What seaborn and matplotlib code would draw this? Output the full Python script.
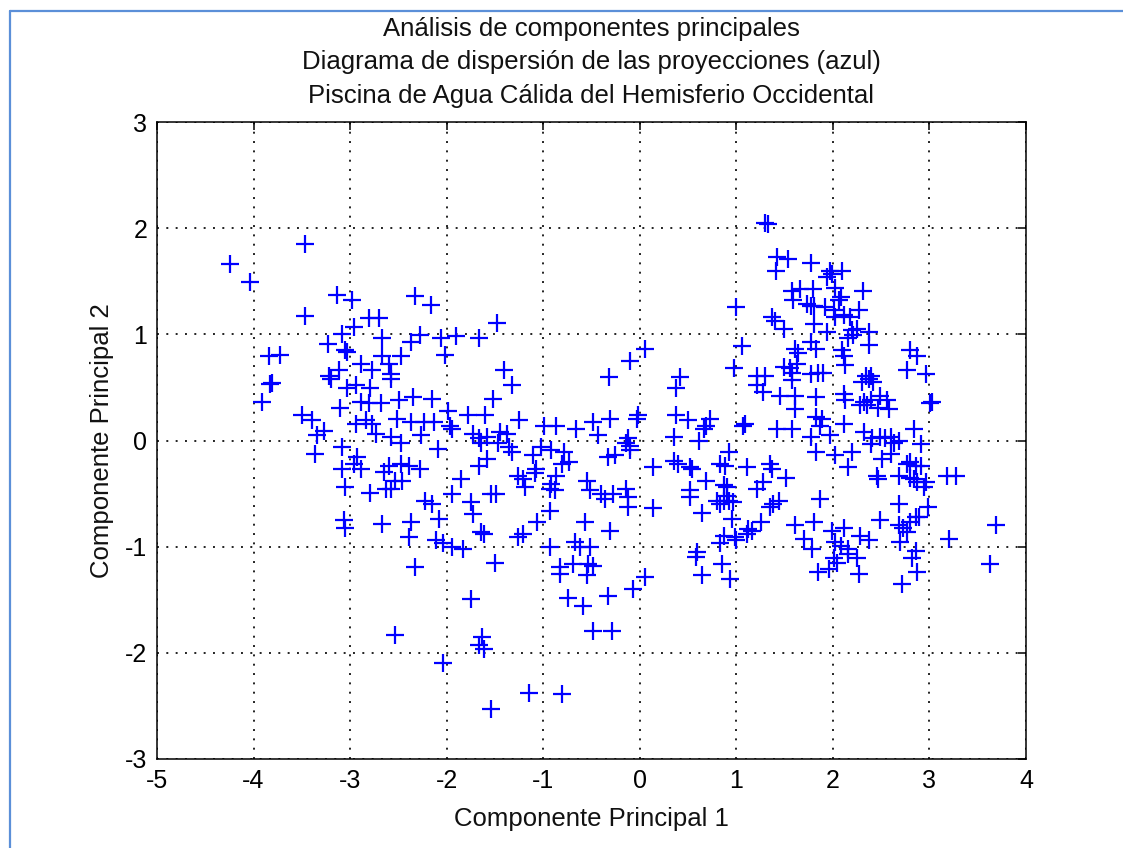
import matplotlib
matplotlib.use("Agg")
import matplotlib.pyplot as plt
from matplotlib.lines import Line2D
import seaborn as sns
import pandas as pd

# Projections onto the first two principal components
pc1 = [
    -4.24, -4.04, -3.47, -3.47, -3.14, -2.98, -2.33, -2.80, -2.70, -2.96, -3.08, -2.67, -2.37, -3.23,
    -3.05, -3.03, -3.84, -3.73, -2.67, -2.47, -2.89, -2.77, -2.60, -2.58, -3.22, -3.12, -3.83, -3.81,
    -3.91, -3.20, -3.03, -2.94, -2.79, -3.10, -2.89, -2.80, -2.68, -2.58, -2.49, -2.35, -3.50, -3.39,
    -3.27, -3.34, -2.94, -2.84, -2.77, -2.73, -2.51, -2.37, -2.58, -2.47, -3.08, -3.36, -2.93, -2.96,
    -3.08, -2.89, -2.60, -2.47, -2.39, -2.65, -2.46, -2.53, -2.63, -2.58, -3.05, -2.79, -3.06, -3.05,
    -2.67, -2.37, -2.39,
    -2.16, -1.48, -2.28, -2.06, -1.90, -1.66, -2.02, -1.41, -1.32, -0.32,
    -1.52, -2.15, -1.99, -1.78, -1.60, -2.23, -2.13, -1.97, -1.94, -1.73, -1.66, -1.58, -1.45, -1.38,
    -1.25, -1.47, -1.35, -1.32, -2.27, -2.09, -1.64, -0.99, -0.87, -0.66, -0.48, -0.43, -0.31, -1.11,
    -1.02, -0.92, -0.78, -0.81, -0.73, -0.33, -1.66, -1.58, -2.28, -1.26, -1.21, -1.19, -1.07, -1.09,
    -1.85, -0.87, -0.92, -0.88, -0.93, -0.55, -0.52, -0.40, -0.36, -1.94, -2.22, -2.15, -1.75, -1.73,
    -1.54, -1.49, -0.93, -1.06, -0.57, -2.08, -2.11, -2.04, -1.64, -1.61, -1.26, -1.21, -0.31, -0.93,
    -0.67, -0.62, -0.52, -1.94, -1.83,
    -2.33, -2.54, -2.04, -1.50, -1.75, -1.63, -1.66, -1.61, -1.54, -1.15, -0.81, -0.83, -0.83, -0.69,
    -0.54, -0.48, -0.55, -0.74, -0.59, -0.48, -0.29, -0.33,
    -0.07, 0.05, 0.58, 0.64, 0.85, 0.93, 1.85, 1.96, 2.04, 2.01, 2.16, 2.25, 2.27, 2.72, 2.82, 2.87,
    3.63,
    1.30, 1.33, 1.42, 1.54, 1.41, 1.77, 1.00, 1.58, 1.66, 1.79, 1.59, 1.73, 1.77, 1.37, 1.40, 1.49,
    1.80, 0.05, -0.10, 1.06, 0.98, 0.42, 1.21, 1.30, 1.49, 1.56, 1.63, 1.61, 1.64, 1.77,
    0.38, -0.02, -0.03, 0.38, 0.50, 0.73, 0.69, 0.67, 1.07, 1.09, 0.35, 0.61, -0.12, -0.14, -0.10,
    -0.26, -0.10, 0.14, 0.35, 0.40, 0.52, 0.54, 0.92, 0.83, 0.88, 1.11, 1.35, 1.37, 1.51, 0.69, 0.87,
    0.90, 1.28, 1.21, -0.14, -0.12, -0.28, 0.52, 0.52, 0.80, 0.87, 0.92, 0.97, 0.83, 0.90, 1.38, 1.44,
    1.35, -0.12, 0.14, 0.64, 0.95, 1.61, 1.70, 1.12, 1.16, 1.11, 1.26, 0.87, 0.99, 1.00, 0.83, 1.80,
    1.78, 0.59,
    1.21, 1.28, 1.45, 1.61, 1.61, 1.58, 1.42, 1.58, 1.77, 1.58, 1.77,
    1.97, 2.09, 1.94, 1.99, 2.02, 2.31, 2.06, 2.08, 1.80, 1.92, 2.01, 2.11, 2.18, 2.27, 1.94, 2.02,
    2.20, 2.25, 2.21, 2.16, 2.37, 2.37, 1.82, 2.09, 2.11, 2.13, 1.85, 1.90, 2.34, 2.39, 2.80, 2.87,
    2.77, 2.96,
    1.82, 2.11, 2.13, 2.30, 2.37, 2.42, 2.32, 2.35, 2.39, 2.28, 2.49, 2.56, 2.58, 2.47, 3.01, 3.03,
    1.83, 1.89, 1.87, 2.11, 1.97, 2.32, 2.41, 2.39, 2.49, 2.54, 2.60, 2.63, 2.68, 2.60, 2.51, 2.84,
    2.91, 1.83, 2.02, 2.20, 2.16, 2.77, 2.80, 2.86, 2.91, 2.46, 2.47, 2.68, 2.80, 2.84, 2.87, 2.96,
    2.94, 3.18, 3.27, 1.87, 2.68, 2.98, 2.49, 2.86, 2.89, 2.80, 2.11, 1.99, 2.68, 2.73, 2.77, 2.28,
    2.37, 2.02, 2.08, 2.70, 3.20, 3.69, 2.16, 2.86,
]
pc2 = [
    1.66, 1.49, 1.85, 1.17, 1.37, 1.32, 1.36, 1.15, 1.15, 1.07, 1.00, 0.97, 0.93, 0.91,
    0.85, 0.83, 0.80, 0.81, 0.80, 0.80, 0.72, 0.66, 0.72, 0.63, 0.61, 0.66, 0.53, 0.54,
    0.36, 0.58, 0.49, 0.52, 0.49, 0.31, 0.36, 0.35, 0.35, 0.58, 0.38, 0.41, 0.24, 0.19,
    0.09, 0.05, 0.16, 0.19, 0.16, 0.06, 0.20, 0.17, 0.03, -0.02, -0.06, -0.13, -0.16, -0.22,
    -0.27, -0.27, -0.24, -0.22, -0.24, -0.30, -0.38, -0.38, -0.46, -0.46, -0.44, -0.49, -0.75, -0.82,
    -0.79, -0.77, -0.91,
    1.28, 1.11, 0.99, 0.97, 0.98, 0.97, 0.81, 0.66, 0.52, 0.60,
    0.39, 0.39, 0.28, 0.24, 0.24, 0.17, 0.17, 0.14, 0.11, 0.06, 0.02, 0.03, 0.08, 0.06,
    0.19, -0.02, -0.06, -0.11, 0.05, -0.08, -0.02, 0.14, 0.14, 0.11, 0.17, 0.05, 0.20, -0.14,
    -0.06, -0.09, -0.11, -0.22, -0.20, -0.16, -0.24, -0.17, -0.27, -0.33, -0.36, -0.44, -0.27, -0.31,
    -0.36, -0.33, -0.41, -0.47, -0.46, -0.38, -0.47, -0.50, -0.55, -0.50, -0.57, -0.60, -0.58, -0.69,
    -0.50, -0.50, -0.66, -0.77, -0.77, -0.74, -0.94, -0.97, -0.86, -0.88, -0.91, -0.88, -0.85, -1.00,
    -0.96, -1.00, -1.00, -1.00, -1.02,
    -1.19, -1.83, -2.10, -1.15, -1.49, -1.85, -1.93, -1.96, -2.53, -2.38, -2.39, -1.19, -1.26, -1.16,
    -1.16, -1.18, -1.27, -1.48, -1.56, -1.79, -1.79, -1.46,
    -1.40, -1.29, -1.10, -1.27, -1.16, -1.30, -1.24, -1.21, -1.15, -1.11, -1.07, -1.11, -1.26, -1.35,
    -1.11, -1.24, -1.16,
    2.05, 2.04, 1.73, 1.71, 1.60, 1.67, 1.26, 1.41, 1.43, 1.43, 1.32, 1.29, 1.27, 1.16, 1.13, 1.05,
    1.10, 0.86, 0.75, 0.89, 0.68, 0.60, 0.61, 0.61, 0.69, 0.68, 0.72, 0.86, 0.82, 0.93,
    0.49, 0.24, 0.20, 0.24, 0.19, 0.20, 0.14, 0.11, 0.14, 0.16, 0.03, 0.00, 0.02, -0.02, -0.05,
    -0.14, -0.09, -0.25, -0.19, -0.22, -0.25, -0.27, -0.11, -0.22, -0.24, -0.25, -0.22, -0.27, -0.35,
    -0.38, -0.42, -0.44, -0.39, -0.46, -0.46, -0.53, -0.50, -0.47, -0.53, -0.57, -0.57, -0.57, -0.58,
    -0.60, -0.52, -0.60, -0.57, -0.63, -0.63, -0.64, -0.68, -0.74, -0.80, -0.93, -0.83, -0.85, -0.88,
    -0.77, -0.90, -0.91, -0.94, -0.97, -0.77, -1.02, -1.05,
    0.52, 0.46, 0.42, 0.42, 0.30, 0.57, 0.11, 0.11, 0.03, 0.64, 0.63,
    1.60, 1.60, 1.54, 1.57, 1.44, 1.41, 1.32, 1.35, 1.27, 1.26, 1.23, 1.18, 1.16, 1.23, 1.02, 1.16,
    1.04, 1.05, 0.99, 0.97, 1.02, 0.90, 0.86, 0.85, 0.80, 0.71, 0.64, 0.64, 0.61, 0.61, 0.85, 0.80,
    0.66, 0.63,
    0.41, 0.44, 0.38, 0.55, 0.58, 0.55, 0.36, 0.33, 0.38, 0.33, 0.42, 0.38, 0.30, 0.31, 0.35, 0.36,
    0.22, 0.20, 0.14, 0.16, 0.05, 0.08, 0.02, -0.03, 0.03, 0.02, 0.03, -0.02, 0.00, -0.13, -0.17, 0.11,
    -0.03, -0.11, -0.14, -0.11, -0.25, -0.22, -0.20, -0.24, -0.24, -0.33, -0.36, -0.33, -0.35, -0.36,
    -0.39, -0.39, -0.44, -0.33, -0.33, -0.55, -0.60, -0.63, -0.75, -0.72, -0.72, -0.77, -0.82, -0.85,
    -0.80, -0.82, -0.86, -0.90, -0.94, -0.96, -0.99, -0.96, -0.93, -0.80, -1.02, -1.04,
]

x_ticks = [-5, -4, -3, -2, -1, 0, 1, 2, 3, 4]
y_ticks = [-3, -2, -1, 0, 1, 2, 3]

title_lines = [
    "Análisis de componentes principales",
    "Diagrama de dispersión de las proyecciones (azul)",
    "Piscina de Agua Cálida del Hemisferio Occidental",
]
x_label = "Componente Principal 1"
y_label = "Componente Principal 2"

sns.set_style("white")
plt.rcParams["font.family"] = ["Liberation Sans", "DejaVu Sans"]

df = pd.DataFrame({"pc1": pc1, "pc2": pc2})

fig = plt.figure(figsize=(11.23, 8.48), dpi=100)
ax = fig.add_axes([157 / 1123, (848 - 759) / 848, 869 / 1123, 637 / 848])

sns.scatterplot(data=df, x="pc1", y="pc2", ax=ax, marker="+", s=170,
                color="#0000ff", linewidth=1.6, legend=False, zorder=3)

ax.set_xlim(-5, 4)
ax.set_ylim(-3, 3)
ax.set_xticks(x_ticks)
ax.set_yticks(y_ticks)
ax.set_xticklabels([str(t) for t in x_ticks])
ax.set_yticklabels([str(t) for t in y_ticks])

ax.grid(True, color="#222222", linestyle=(0, (1, 3.8)), linewidth=1.4, zorder=1)
ax.set_axisbelow(True)
for sp in ax.spines.values():
    sp.set_visible(True)
    sp.set_color("black")
    sp.set_linewidth(1.1)

ax.tick_params(direction="in", length=6, width=1.1, top=True, right=True,
               labelsize=18, colors="black", pad=7)

ax.set_xlabel(x_label, fontsize=18.5, labelpad=10, color="#111111")
ax.set_ylabel(y_label, fontsize=18.5, labelpad=8, color="#111111")
ax.set_title("\n".join(title_lines), fontsize=18.5, linespacing=1.5, pad=14,
             color="#111111")

# Frame lines along the top and left edges of the figure
border = "#5b8fd8"
fig.add_artist(Line2D([10 / 1123, 1.0], [1 - 11 / 848, 1 - 11 / 848],
                      transform=fig.transFigure, color=border, linewidth=1.6))
fig.add_artist(Line2D([10 / 1123, 10 / 1123], [0.0, 1 - 11 / 848],
                      transform=fig.transFigure, color=border, linewidth=1.6))

fig.savefig("out.png", dpi=100)
